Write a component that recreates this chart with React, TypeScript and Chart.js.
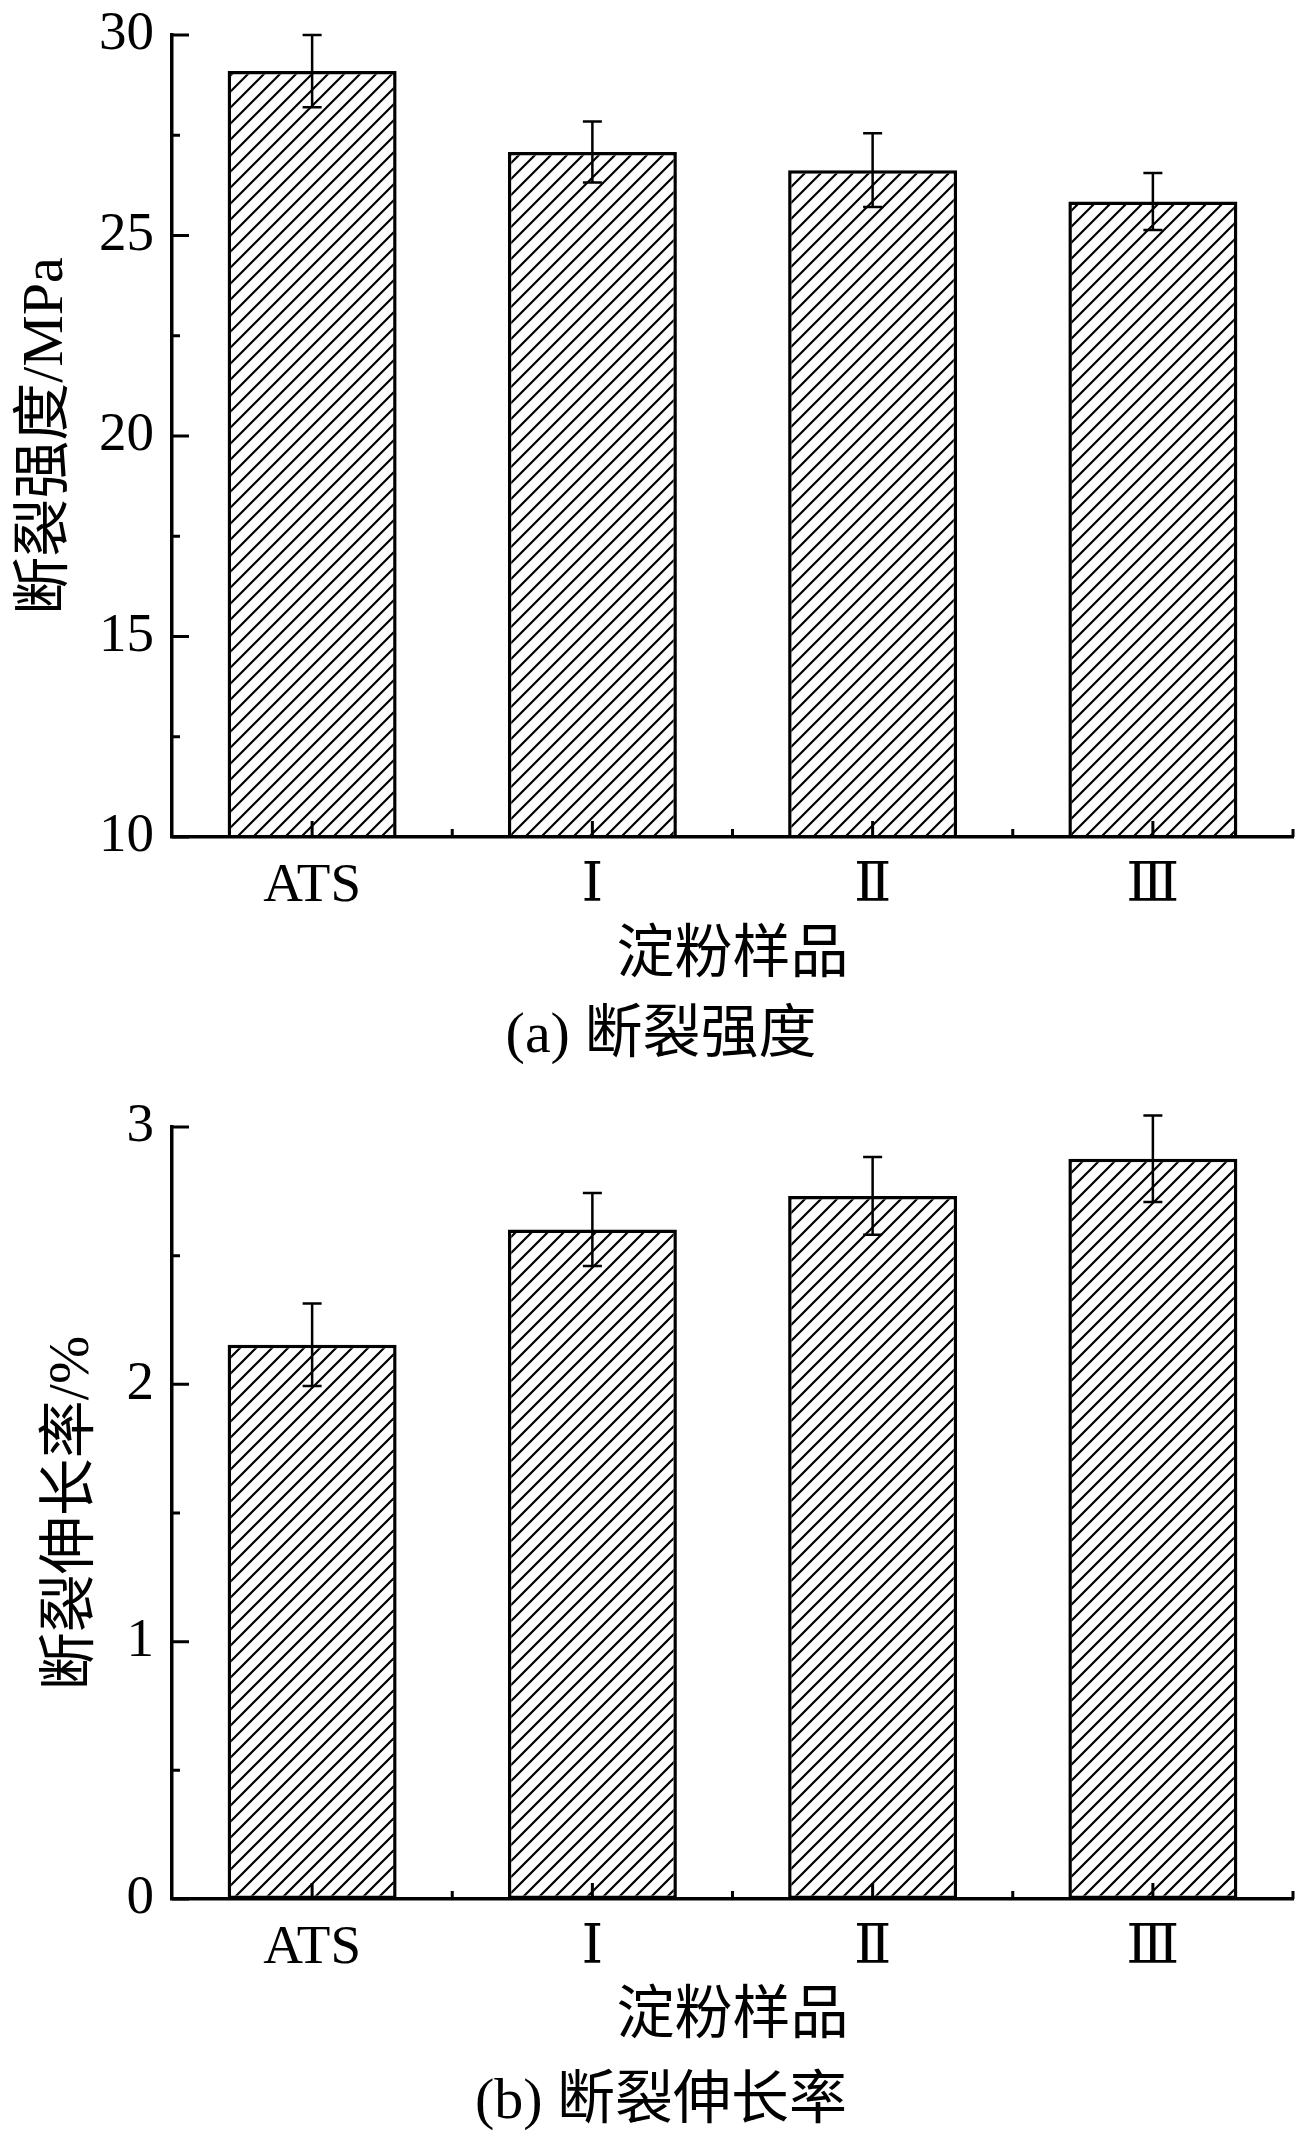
import { useEffect, useRef } from 'react';
import { Chart, registerables } from 'chart.js';

Chart.register(...registerables);

// sample categories (x axis)
const samples = ['ATS', 'Ⅰ', 'Ⅱ', 'Ⅲ'];

// (a) breaking strength, MPa
const strength = [29.1, 27.08, 26.63, 25.85];
const strengthErr = [0.9, 0.76, 0.92, 0.71];
const strengthTicks = [10, 15, 20, 25, 30];

// (b) elongation at break, %
const elongation = [2.154, 2.602, 2.732, 2.877];
const elongationErr = [0.16, 0.142, 0.151, 0.168];
const elongationTicks = [0, 1, 2, 3];

const SERIF = "'Liberation Serif', 'DejaVu Serif', 'Noto Sans CJK SC', serif";

function hatchPattern(): CanvasPattern | string {
    const s = 16;
    const c = document.createElement('canvas');
    c.width = s;
    c.height = s;
    const g = c.getContext('2d');
    if (!g) return '#fff';
    g.fillStyle = '#fff';
    g.fillRect(0, 0, s, s);
    g.strokeStyle = '#000';
    g.lineWidth = 2.2;
    g.beginPath();
    g.moveTo(-2, s + 2);
    g.lineTo(s + 2, -2);
    g.moveTo(-2, 2);
    g.lineTo(2, -2);
    g.moveTo(s - 2, s + 2);
    g.lineTo(s + 2, s - 2);
    g.stroke();
    return g.createPattern(c, 'repeat') ?? '#fff';
}

// inward tick marks: major + half-step minor on y, centres + boundaries on x
const innerTicks = {
    id: 'innerTicks',
    afterDatasetsDraw(chart: any) {
        const { ctx, chartArea: a, scales } = chart;
        const x = scales.x;
        const y = scales.y;
        const step = y.options.ticks.stepSize;
        ctx.save();
        ctx.strokeStyle = '#000';
        ctx.lineWidth = 3;
        ctx.beginPath();
        for (let k = 0; k <= Math.round((y.max - y.min) / step) * 2; k++) {
            const py = y.getPixelForValue(y.min + (k * step) / 2);
            ctx.moveTo(a.left, py);
            ctx.lineTo(a.left + (k % 2 === 0 ? 17 : 8), py);
        }
        const half = (x.getPixelForValue(1) - x.getPixelForValue(0)) / 2;
        samples.forEach((_, i) => {
            const px = x.getPixelForValue(i);
            ctx.moveTo(px, a.bottom);
            ctx.lineTo(px, a.bottom - 16);
            ctx.moveTo(px + half, a.bottom);
            ctx.lineTo(px + half, a.bottom - 8);
        });
        ctx.stroke();
        ctx.restore();
    },
};

const errorBars = {
    id: 'errorBars',
    afterDatasetsDraw(chart: any, _args: any, opts: any) {
        const { ctx, scales } = chart;
        const y = scales.y;
        const vals = chart.data.datasets[0].data as number[];
        const errs: number[] = opts.errors || [];
        const meta = chart.getDatasetMeta(0);
        ctx.save();
        ctx.strokeStyle = '#000';
        ctx.lineWidth = 2.5;
        ctx.beginPath();
        meta.data.forEach((bar: any, i: number) => {
            const top = y.getPixelForValue(vals[i] + errs[i]);
            const bot = y.getPixelForValue(vals[i] - errs[i]);
            ctx.moveTo(bar.x, top);
            ctx.lineTo(bar.x, bot);
            ctx.moveTo(bar.x - 9.5, top);
            ctx.lineTo(bar.x + 9.5, top);
            ctx.moveTo(bar.x - 9.5, bot);
            ctx.lineTo(bar.x + 9.5, bot);
        });
        ctx.stroke();
        ctx.restore();
    },
};

interface PanelProps {
    top: number;
    height: number;
    values: number[];
    errors: number[];
    ticks: number[];
    yTitle: string;
    pad: { top: number; left: number; right: number; bottom: number };
    yWidth: number;
    xHeight: number;
}

function BarPanel({ top, height, values, errors, ticks, yTitle, pad, yWidth, xHeight }: PanelProps) {
    const canvasRef = useRef<HTMLCanvasElement>(null);
    const chartRef = useRef<Chart | null>(null);

    useEffect(() => {
        if (!canvasRef.current) return;
        chartRef.current?.destroy();

        chartRef.current = new Chart(canvasRef.current, {
            type: 'bar',
            data: {
                labels: samples,
                datasets: [
                    {
                        data: values,
                        backgroundColor: hatchPattern() as any,
                        borderColor: '#000',
                        borderWidth: 3.5,
                        borderSkipped: false,
                        categoryPercentage: 1,
                        barPercentage: 0.603,
                        clip: 0,
                    },
                ],
            },
            options: {
                responsive: false,
                animation: false,
                events: [],
                layout: { padding: pad },
                plugins: {
                    legend: { display: false },
                    tooltip: { enabled: false },
                    errorBars: { errors },
                } as any,
                scales: {
                    x: {
                        offset: true,
                        grid: { display: false, drawTicks: false, offset: true },
                        border: { display: true, color: '#000', width: 3.5, z: 1 },
                        ticks: { color: '#000', padding: 17, font: { family: SERIF, size: 55 } },
                        title: {
                            display: true,
                            text: '淀粉样品',
                            color: '#000',
                            padding: 0,
                            font: { family: SERIF, size: 58, lineHeight: 1.2 },
                        },
                        afterFit: (s: any) => { s.height = xHeight; },
                    },
                    y: {
                        min: ticks[0],
                        max: ticks[ticks.length - 1],
                        grid: { display: false, drawTicks: false },
                        border: { display: true, color: '#000', width: 3.5, z: 1 },
                        ticks: {
                            stepSize: ticks[1] - ticks[0],
                            color: '#000',
                            padding: 18,
                            font: { family: SERIF, size: 55 },
                        },
                        title: {
                            display: true,
                            text: yTitle,
                            color: '#000',
                            padding: 0,
                            font: { family: SERIF, size: 58, lineHeight: 1.2 },
                        },
                        afterFit: (s: any) => { s.width = yWidth; },
                    },
                },
            },
            plugins: [innerTicks, errorBars],
        });

        return () => { chartRef.current?.destroy(); };
    }, [values, errors, ticks, yTitle]);

    return (
        <canvas
            ref={canvasRef}
            width={1300}
            height={height}
            style={{ position: 'absolute', left: 0, top, width: 1300, height }}
        />
    );
}

function Caption({ center, text }: { center: number; text: string }) {
    return (
        <div
            style={{
                position: 'absolute',
                left: 0,
                top: center - 33,
                width: 1322,
                textAlign: 'center',
                fontFamily: SERIF,
                fontSize: 58,
                lineHeight: '70px',
                color: '#000',
                whiteSpace: 'nowrap',
            }}
        >
            {text}
        </div>
    );
}

export default function App() {
    return (
        <div style={{ position: 'absolute', left: 0, top: 0, width: 1300, height: 2140, background: '#fff', overflow: 'hidden' }}>
            <BarPanel
                top={-30}
                height={1030}
                values={strength}
                errors={strengthErr}
                ticks={strengthTicks}
                yTitle="断裂强度/MPa"
                pad={{ top: 65, left: 11.7, right: 7, bottom: 8.7 }}
                yWidth={160.3}
                xHeight={154.3}
            />
            <BarPanel
                top={1060}
                height={1080}
                values={elongation}
                errors={elongationErr}
                ticks={elongationTicks}
                yTitle="断裂伸长率/%"
                pad={{ top: 67, left: 38, right: 7, bottom: 87.2 }}
                yWidth={134}
                xHeight={153.8}
            />
            <Caption center={1031} text="(a) 断裂强度" />
            <Caption center={2097} text="(b) 断裂伸长率" />
        </div>
    );
}
